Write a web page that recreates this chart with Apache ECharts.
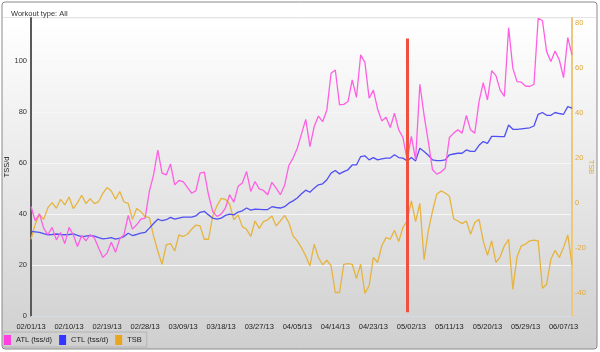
<!DOCTYPE html>
<html>
<head>
<meta charset="utf-8">
<script src="https://cdn.jsdelivr.net/npm/echarts@6/dist/echarts.min.js"></script>
<style>
  html, body { margin: 0; padding: 0; background: #fff; }
  #chart { width: 600px; height: 352px; }
</style>
</head>
<body>
<div id="chart"></div>
<script>
// daily values from 02/01/13 (index 0) to 06/09/13 (index 128)
var atl = [
  43.0, 37.4, 40.1, 34.5, 31.9, 34.8, 29.9, 32.8, 28.4, 34.8,
  31.9, 27.3, 31.6, 29.5, 31.9, 30.6, 26.7, 23.0, 24.7, 29.0,
  25.0, 30.3, 31.9, 39.5, 34.1, 35.8, 38.0, 38.4, 48.9, 55.4,
  65.1, 56.1, 55.4, 59.7, 51.5, 53.2, 52.8, 50.5, 48.2, 49.1,
  56.1, 56.5, 47.6, 41.0, 39.1, 40.0, 42.4, 47.6, 44.7, 50.9,
  52.2, 56.7, 48.9, 52.8, 49.9, 49.3, 47.6, 52.5, 50.2, 47.6,
  51.3, 59.1, 62.0, 65.9, 71.5, 77.2, 66.5, 74.4, 78.5, 76.3,
  80.9, 95.3, 96.6, 82.9, 83.1, 84.2, 92.7, 85.8, 102.5, 99.6,
  85.5, 88.7, 81.3, 76.6, 78.0, 74.0, 79.6, 73.1, 70.1, 61.3,
  70.5, 61.3, 91.0, 78.9, 68.5, 57.4, 55.7, 56.5, 58.0, 70.1,
  71.8, 73.1, 71.8, 78.7, 73.1, 71.8, 84.2, 91.6, 84.8, 96.3,
  94.4, 88.7, 86.2, 113.2, 97.3, 92.0, 91.8, 90.3, 90.1, 91.0,
  116.9, 116.0, 103.8, 99.9, 104.0, 100.5, 93.6, 109.3, 102.5
];
var ctl = [
  33.2, 33.0, 32.8, 32.3, 31.9, 32.0, 32.2, 32.0, 31.9, 32.0,
  32.2, 31.7, 31.2, 31.4, 31.6, 31.4, 30.8, 30.3, 30.5, 30.8,
  30.2, 30.6, 31.2, 32.5, 31.6, 32.0, 32.5, 32.8, 34.5, 36.3,
  38.0, 37.4, 37.8, 38.7, 38.0, 38.4, 38.8, 38.8, 38.8, 39.3,
  40.7, 41.1, 39.7, 38.4, 38.0, 38.4, 39.5, 40.0, 39.7, 40.8,
  41.3, 42.4, 41.6, 42.0, 41.9, 41.8, 41.8, 42.9, 42.6, 42.4,
  42.9, 44.3, 45.2, 46.3, 48.0, 49.4, 48.6, 50.2, 51.5, 51.9,
  53.5, 56.1, 57.1, 55.8, 56.7, 57.4, 59.3, 59.3, 62.6, 62.9,
  61.3, 62.2, 61.3, 61.7, 62.0, 62.0, 63.3, 62.2, 62.0, 60.9,
  62.2, 60.9, 65.9, 64.6, 63.1, 61.3, 61.0, 61.0, 61.3, 63.3,
  63.6, 63.9, 63.9, 65.2, 64.6, 64.6, 67.0, 68.5, 67.8, 70.5,
  70.5, 70.4, 70.4, 75.0, 73.3, 73.3, 73.5, 73.7, 73.9, 74.6,
  79.2, 79.9, 78.8, 78.8, 79.9, 79.5, 79.2, 82.2, 81.6
];
var tsb = [
  -16.0, -9.4, -5.0, -7.2, -2.0, 0.2, -2.3, 1.7, -0.8, 2.7,
  -2.4, 0.2, 3.5, -0.2, 2.0, -0.2, 0.7, 4.3, 6.9, 5.4,
  1.7, 5.1, 0.5, -0.1, -7.2, -2.4, -3.8, -6.0, -6.4, -14.5,
  -21.2, -27.1, -18.5, -17.9, -21.2, -14.1, -14.8, -13.8, -11.6, -9.7,
  -10.1, -16.0, -16.0, -5.7, -1.2, 2.1, 1.7, -0.5, -7.4, -5.2,
  -10.4, -11.6, -14.8, -7.9, -11.2, -8.2, -7.4, -5.7, -10.1, -7.9,
  -5.4, -8.6, -14.5, -16.7, -19.7, -23.4, -27.8, -18.2, -24.1, -27.3,
  -25.3, -27.8, -39.6, -39.6, -27.1, -26.8, -27.1, -33.4, -27.1, -40.0,
  -36.6, -24.1, -26.3, -18.9, -15.3, -16.0, -12.0, -17.0, -10.8, -7.9,
  1.0, -8.2, -0.1, -25.1, -12.3, -3.5, 3.9, 5.4, 4.5, 3.0,
  -6.9, -7.9, -9.1, -7.9, -13.8, -8.6, -7.2, -16.7, -23.1, -16.7,
  -26.3, -23.8, -18.9, -16.0, -38.1, -23.8, -18.9, -18.2, -16.7, -16.4,
  -16.7, -37.7, -35.9, -24.9, -20.9, -24.1, -19.7, -14.1, -27.1
];
var tsbTicks = [-40, -20, 0, 20, 40, 60, 80];
// marker: day index and its extent on the TSS/d axis
var markerDay = 89;
var markerRange = [109, 1.5];

var days = atl.map(function (v, i) {
  var d = new Date(2013, 1, 1 + i);
  var mm = ('0' + (d.getMonth() + 1)).slice(-2);
  var dd = ('0' + d.getDate()).slice(-2);
  return mm + '/' + dd + '/' + String(d.getFullYear()).slice(-2);
});

var font = 'Liberation Sans, Arial, sans-serif';
var atlColor = '#ff5fe3', ctlColor = '#5050f2', tsbColor = '#e6b43e';

var chart = echarts.init(document.getElementById('chart'), null, { renderer: 'canvas' });
chart.setOption({
  animation: false,
  backgroundColor: '#ffffff',
  textStyle: { fontFamily: font },
  title: {
    text: 'Workout type: All',
    left: 6, top: 5,
    textStyle: { fontSize: 7.5, fontWeight: 'normal', color: '#333', fontFamily: font }
  },
  graphic: [
    {
      type: 'rect', z: -10, silent: true,
      shape: { x: 2, y: 2, width: 595, height: 347, r: 3 },
      style: {
        fill: new echarts.graphic.LinearGradient(0, 0, 0, 1, [
          { offset: 0, color: '#ffffff' },
          { offset: 0.06, color: '#ffffff' },
          { offset: 1, color: '#cfcfcf' }
        ]),
        stroke: '#8a8a8a', lineWidth: 1
      }
    },
    {
      type: 'line', z: -9, silent: true,
      shape: { x1: 3, y1: 17.5, x2: 596, y2: 17.5 },
      style: { stroke: '#e4e4e4', lineWidth: 1 }
    }
  ],
  legend: {
    left: 3, top: 332,
    padding: [3, 5, 2, 1],
    itemGap: 7, itemWidth: 7, itemHeight: 10,
    borderColor: '#b4b4b4', borderWidth: 1,
    textStyle: { fontSize: 7.5, color: '#222', fontFamily: font },
    data: [
      { name: 'ATL (tss/d)', icon: 'rect', itemStyle: { color: '#ff3fe0' } },
      { name: 'CTL (tss/d)', icon: 'rect', itemStyle: { color: '#3434ff' } },
      { name: 'TSB', icon: 'rect', itemStyle: { color: '#e8a620' } }
    ]
  },
  grid: { left: 31, right: 28, top: 18, bottom: 36, outerBoundsMode: 'none', containLabel: false },
  xAxis: {
    type: 'category',
    boundaryGap: false,
    data: days,
    axisLine: { lineStyle: { color: '#c9d6e4', type: 'dotted', width: 1 } },
    axisTick: { show: false },
    axisLabel: { interval: 8, fontSize: 7.5, color: '#222', margin: 7, fontFamily: font },
    splitLine: { show: false }
  },
  yAxis: [
    {
      type: 'value', min: 0, max: 117, interval: 20,
      name: 'TSS/d', nameLocation: 'middle', nameGap: 20, nameRotate: 90, nameMoveOverlap: false,
      nameTextStyle: { fontSize: 7.5, color: '#222', fontFamily: font },
      axisLine: { show: true, lineStyle: { color: '#5a5a5a', width: 2 } },
      axisTick: { show: false },
      axisLabel: { fontSize: 7.5, color: '#333', margin: 4, fontFamily: font, showMaxLabel: false },
      splitLine: { lineStyle: { color: '#f6f6f6', width: 1 } }
    },
    {
      type: 'value', min: -50, max: 82,
      name: 'TSB', nameLocation: 'middle', nameGap: 15, nameRotate: -90, nameMoveOverlap: false,
      nameTextStyle: { fontSize: 7.5, color: '#e0ac3a', fontFamily: font },
      axisLine: { show: true, lineStyle: { color: '#ecc77c', width: 2 } },
      axisTick: { show: false },
      axisLabel: { customValues: tsbTicks, fontSize: 7.5, color: '#e0a838', margin: 3, fontFamily: font },
      splitLine: { show: false }
    }
  ],
  series: [
    {
      name: 'TSB', type: 'line', yAxisIndex: 1, data: tsb,
      symbol: 'none', lineStyle: { color: tsbColor, width: 1.3 }, itemStyle: { color: tsbColor }
    },
    {
      name: 'CTL (tss/d)', type: 'line', data: ctl,
      symbol: 'none', lineStyle: { color: ctlColor, width: 1.3 }, itemStyle: { color: ctlColor }
    },
    {
      name: 'ATL (tss/d)', type: 'line', data: atl,
      symbol: 'none', lineStyle: { color: atlColor, width: 1.3 }, itemStyle: { color: atlColor },
      markLine: {
        silent: true, symbol: 'none', animation: false,
        label: { show: false },
        lineStyle: { color: '#f2503e', width: 3, type: 'solid' },
        data: [[{ coord: [markerDay, markerRange[0]] }, { coord: [markerDay, markerRange[1]] }]]
      }
    }
  ]
});
</script>
</body>
</html>
